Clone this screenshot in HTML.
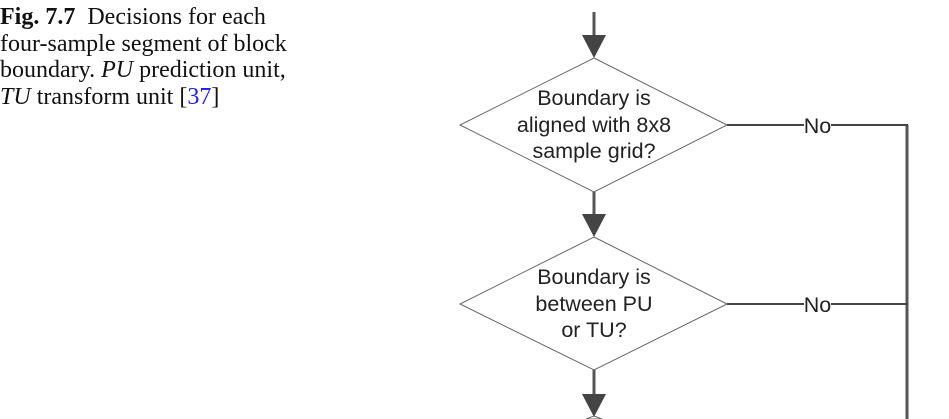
<!DOCTYPE html>
<html><head><meta charset="utf-8"><style>
body{margin:0;background:#fff;width:949px;height:419px;overflow:hidden;position:relative}
.cap{position:absolute;left:0;top:4px;font-family:"Liberation Serif",serif;font-size:24px;line-height:26.5px;color:#111;white-space:nowrap}
.cap a{color:#1a1aff;text-decoration:none}
svg{position:absolute;left:0;top:0}
</style></head><body>
<div class="cap"><b>Fig. 7.7</b>&nbsp; Decisions for each<br>four-sample segment of block<br>boundary. <i>PU</i> prediction unit,<br><i>TU</i> transform unit [<a>37</a>]</div>
<svg width="949" height="419" font-family="Liberation Sans, sans-serif" font-size="21.5" fill="#222">
<g stroke="#555" stroke-width="3">
<line x1="594" y1="12" x2="594" y2="40"/>
<line x1="594" y1="192" x2="594" y2="218"/>
<line x1="594" y1="370" x2="594" y2="396"/>
<line x1="907" y1="125" x2="907" y2="419"/>
</g>
<g fill="#444">
<polygon points="582,35 606,35 594,58"/>
<polygon points="582,214 606,214 594,237"/>
<polygon points="582,394 606,394 594,417"/>
</g>
<g stroke="#444" stroke-width="2">
<line x1="727" y1="125" x2="804" y2="125"/><line x1="831" y1="125" x2="908" y2="125"/>
<line x1="727" y1="304" x2="804" y2="304"/><line x1="831" y1="304" x2="908" y2="304"/>
</g>
<g fill="none" stroke="#666" stroke-width="1">
<polygon points="594,58 727,125 594,192 460,125"/>
<polygon points="594,237 727,304 594,370 460,304"/>
<polygon points="594,416 602,419 586,419"/>
</g>
<g text-anchor="middle">
<text x="594" y="105">Boundary is</text>
<text x="594" y="132">aligned with 8x8</text>
<text x="594" y="158">sample grid?</text>
<text x="594" y="284">Boundary is</text>
<text x="594" y="311">between PU</text>
<text x="594" y="337">or TU?</text>
<text x="817.5" y="133">No</text>
<text x="817.5" y="312">No</text>
</g>
</svg>
</body></html>
